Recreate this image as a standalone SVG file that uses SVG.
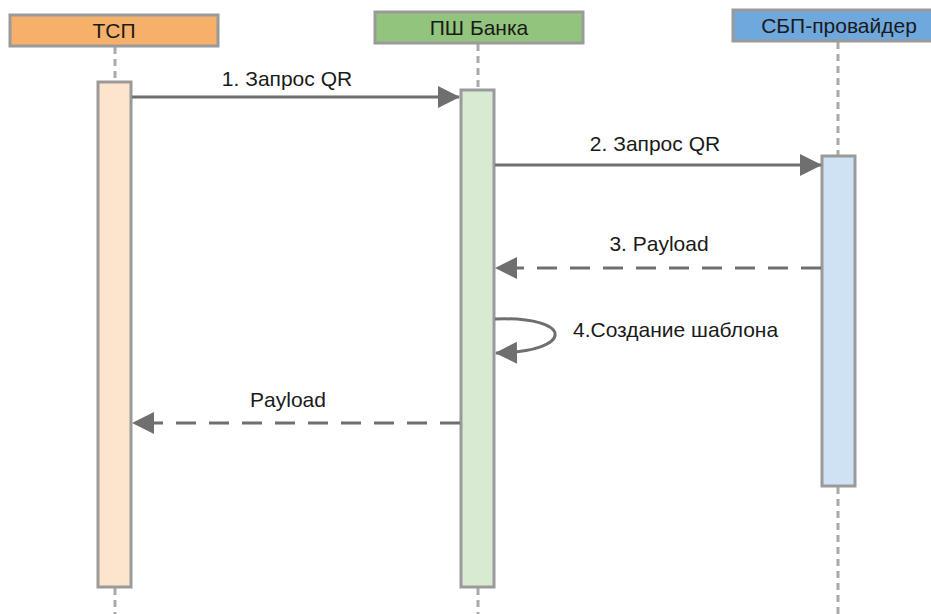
<svg xmlns="http://www.w3.org/2000/svg" width="931" height="614" viewBox="0 0 931 614">
<style>
.hdr{stroke:#9a9a9a;stroke-width:3}
.act{stroke:#9a9a9a;stroke-width:3}
.life{stroke:#aaaaaa;stroke-width:3;stroke-dasharray:7 5;fill:none}
.msg{stroke:#6f6f6f;stroke-width:3;fill:none}
.ret{stroke:#6f6f6f;stroke-width:3;fill:none;stroke-dasharray:20 13}
text{font-family:"Liberation Sans",Arial,sans-serif;font-size:21px;fill:#1a1a1a}
.c{text-anchor:middle}
</style>
<defs>
<marker id="ahs" markerWidth="22" markerHeight="22" refX="21" refY="11" orient="auto" markerUnits="userSpaceOnUse" viewBox="0 0 22 22">
<path d="M0,0 L22,11 L0,22 Z" fill="#6f6f6f"/>
</marker>
</defs>
<g id="lifelines">
<line class="life" x1="115" y1="47" x2="115" y2="82"/>
<line class="life" x1="115" y1="588" x2="115" y2="614"/>
<line class="life" x1="478" y1="44" x2="478" y2="90"/>
<line class="life" x1="478" y1="588" x2="478" y2="614"/>
<line class="life" x1="838" y1="42" x2="838" y2="156"/>
<line class="life" x1="838" y1="487" x2="838" y2="614"/>
</g>
<g id="tsp">
<rect class="hdr" x="10" y="15" width="208" height="31" fill="#f5b06a"/>
<text class="c" x="114" y="38">ТСП</text>
<rect class="act" x="98" y="82" width="33" height="505" fill="#fde5cd"/>
</g>
<g id="bank">
<rect class="hdr" x="375" y="12" width="208" height="31" fill="#93c47d"/>
<text class="c" x="479" y="35">ПШ Банка</text>
<rect class="act" x="461" y="90" width="33" height="497" fill="#d9ead3"/>
</g>
<g id="sbp">
<rect class="hdr" x="733" y="10" width="208" height="31" fill="#6fa8dc"/>
<text class="c" x="839" y="33">СБП-провайдер</text>
<rect class="act" x="822" y="156" width="33" height="330" fill="#cfe2f3"/>
</g>
<g id="connectors">
<line class="msg" x1="132" y1="97" x2="459" y2="97" marker-end="url(#ahs)"/>
<text class="c" x="287" y="86">1. Запрос QR</text>
<line class="msg" x1="495" y1="165" x2="821" y2="165" marker-end="url(#ahs)"/>
<text class="c" x="655" y="151">2. Запрос QR</text>
<line class="ret" x1="821" y1="268" x2="496" y2="268" marker-end="url(#ahs)"/>
<text class="c" x="659" y="251">3. Payload</text>
<path class="msg" d="M495,319 C575,316 575,352 496,353" marker-end="url(#ahs)"/>
<text x="573" y="337">4.Создание шаблона</text>
<line class="ret" x1="460" y1="423" x2="133" y2="423" marker-end="url(#ahs)"/>
<text class="c" x="288" y="407">Payload</text>
</g>
</svg>
